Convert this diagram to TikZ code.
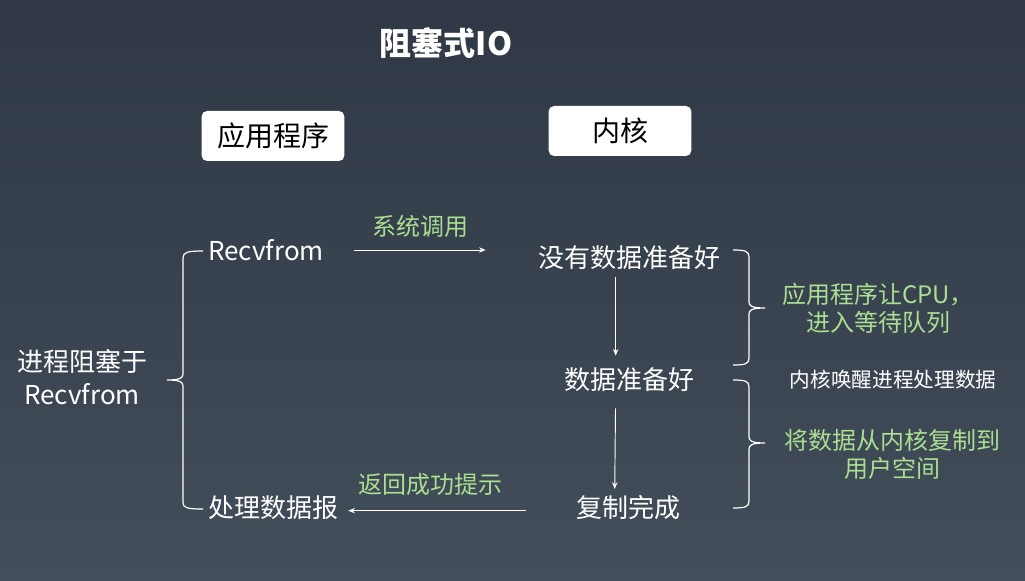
\documentclass[tikz,border=0pt]{standalone}
\usepackage{fontspec}
\setmainfont{Noto Sans CJK SC}
\usetikzlibrary{positioning,arrows.meta}

\definecolor{bgtop}{RGB}{47,56,68}
\definecolor{bgbot}{RGB}{67,78,91}
\definecolor{tipgreen}{RGB}{170,222,145}
\newcommand{\fsz}[2]{\fontsize{#1}{#2}\selectfont}

\begin{document}
\begin{tikzpicture}[
    x=0.75pt, y=-0.75pt,
    title/.style={font=\fsz{24}{29}\bfseries, text=white},
    hdbox/.style={rectangle, fill=white, rounded corners=4pt, minimum width=107pt, minimum height=37.5pt, font=\fsz{21}{25}, text=black},
    flowtxt/.style={font=\fsz{19.5}{23}, text=white, inner sep=0pt, align=center},
    note/.style={font=\fsz{18}{21}, text=tipgreen, inner sep=0pt, align=center},
    smallnote/.style={font=\fsz{15.5}{19}, text=white, inner sep=0pt},
    arr/.style={-{Stealth[length=5pt, width=4pt]}, white, line width=0.7pt},
    brk/.style={white, line width=0.9pt}
]

% background
\fill[top color=bgtop, bottom color=bgbot] (0,0) rectangle (1025,581);

% heading and the two sides
\node[title] (head) at (446,43) {阻塞式IO};
\node[hdbox] (app) at (273,136) {应用程序};
\node[hdbox] (kernel) at (620,131) {内核};

% application side
\node[flowtxt] (recv) at (266,250) {Recvfrom};
\node[flowtxt] (proc) at (273,508) {处理数据报};
\node[flowtxt] (blocked) at (82,377) {进程阻塞于\\[1.5pt]Recvfrom};

% kernel side
\node[flowtxt] (nodata) at (629,258) {没有数据准备好};
\node[flowtxt] (ready) at (629,380) {数据准备好};
\node[flowtxt] (done) at (628,508) {复制完成};

\draw[arr, shorten <=22.5pt, shorten >=39pt] (recv.east) -- (recv.east -| nodata.west);
\draw[arr, shorten <=5pt, shorten >=9pt] ([xshift=-10pt]nodata.south) -- ([xshift=-10pt]ready.north);
\draw[arr, shorten <=12pt, shorten >=5pt] ([xshift=-10pt]ready.south) -- ([xshift=-10pt]done.north);
\draw[arr, shorten <=37.5pt, shorten >=7.5pt] ([yshift=-2pt]done.west) -- ([yshift=-2pt]done.west -| proc.east);

% labels
\node[note] (call) at (420,226) {系统调用};
\node[note] (ret) at (430,484) {返回成功提示};
\node[note] (yield) at (878,308) {应用程序让CPU，\\进入等待队列};
\node[smallnote] (wake) at (893,380) {内核唤醒进程处理数据};
\node[note] (copy) at (892,454) {将数据从内核复制到\\用户空间};

% brackets
\draw[brk] (203,251) .. controls (188,251) and (183,252) .. (183,258) -- (183,374)
    .. controls (183,378) and (180,380) .. (167,380) .. controls (180,380) and (183,382) .. (183,386)
    -- (183,503) .. controls (183,508) and (188,509) .. (203,509);
\foreach \t/\m/\b in {250/308/365, 380/443/508}
    \draw[brk] (733,\t) .. controls (745,\t) and (749,\t+1) .. (749,\t+7) -- (749,\m-6)
        .. controls (749,\m-2) and (752,\m) .. (765,\m) .. controls (752,\m) and (749,\m+2) .. (749,\m+6)
        -- (749,\b-7) .. controls (749,\b-1) and (745,\b) .. (733,\b);

\end{tikzpicture}
\end{document}
